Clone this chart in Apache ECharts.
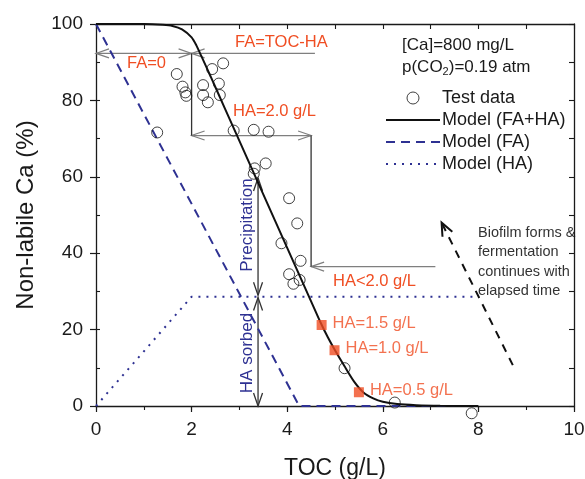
<!DOCTYPE html>
<html>
<head>
<meta charset="utf-8">
<script src="https://cdn.jsdelivr.net/npm/echarts@6/dist/echarts.min.js"></script>
<style>
  html, body { margin: 0; padding: 0; background: #fff; }
  #chart { width: 585px; height: 479px; }
</style>
</head>
<body>
<div id="chart"></div>
<script>
// TOC in g/L on x, non-labile Ca in % on y
const modelTotalX = [0, 1.0, 1.4, 1.6, 1.8, 2.0, 2.1, 2.2, 2.4, 2.7, 3.0, 3.5, 4.0, 4.5, 4.7, 4.85, 5.0, 5.2, 5.4, 5.6, 5.8, 6.0, 6.3, 6.7, 7.2, 8.0];
const modelTotalY = [100, 100, 99.8, 99.5, 98.6, 96.5, 94.4, 91.7, 86.2, 77.8, 69.4, 55.4, 41.4, 27.4, 21.8, 18.0, 14.6, 10.4, 6.4, 3.5, 2.0, 1.1, 0.5, 0.2, 0.05, 0];

const modelFAX = [0, 4.25, 8.0];
const modelFAY = [100, 0, 0];

const modelHAX = [0, 2.0, 8.0];
const modelHAY = [0, 28.6, 28.6];

const testX = [1.28, 1.69, 1.81, 1.87, 1.89, 2.24, 2.24, 2.34, 2.43, 2.57, 2.59, 2.66, 2.88, 3.30, 3.61, 3.32, 3.55, 3.30, 4.04, 4.21, 3.88, 4.28, 4.04, 4.13, 4.26, 5.20, 6.25, 7.86];
const testY = [71.6, 86.9, 83.6, 82.1, 81.2, 84.0, 81.4, 79.5, 88.2, 84.4, 81.4, 89.7, 72.1, 72.3, 71.8, 62.2, 63.5, 60.8, 54.4, 47.8, 42.6, 38.0, 34.5, 32.0, 33.0, 9.9, 0.9, -1.9];

const haLabels = ['HA=1.5 g/L', 'HA=1.0 g/L', 'HA=0.5 g/L'];
const haX = [4.72, 4.99, 5.50];
const haY = [21.2, 14.6, 3.6];

// guide lines in data units: x1, y1, x2, y2, head at start, head at end, style index
const guides = [
  [0, 92.3, 2.0, 92.3, 1, 1, 0],
  [4.58, 92.3, 2.0, 92.3, 0, 1, 0],
  [2.0, 70.8, 4.5, 70.8, 1, 1, 0],
  [7.1, 36.5, 4.5, 36.5, 0, 1, 0],
  [2.0, 92.3, 2.0, 70.8, 0, 0, 1],
  [4.5, 70.8, 4.5, 36.5, 0, 0, 1],
  [3.39, 59.7, 3.39, 29.0, 1, 1, 1],
  [3.39, 28.4, 3.39, 0, 1, 1, 1],
  [8.72, 10.7, 7.23, 48.0, 0, 1, 2]
];

const xTicksMajor = 2, xTicksMinor = 1, yTicksMajor = 20, yTicksMinor = 10;

const FONT = "'Liberation Sans', Arial, Helvetica, sans-serif";
const RED = '#f04e23';
const BLUE = '#2e3192';
const INK = '#1a1a1a';

const guideStyles = [
  { color: '#7f7f7f', width: 1.2, dash: null, len: 13, half: 4.5 },
  { color: '#333333', width: 1.3, dash: null, len: 13, half: 4.5 },
  { color: '#111111', width: 2, dash: [8, 7], len: 13, half: 5.5 }
];

function zip(xs, ys) { return xs.map((x, i) => [x, ys[i]]); }

function chevron(tip, from, len, half) {
  const dx = tip[0] - from[0], dy = tip[1] - from[1];
  const L = Math.hypot(dx, dy) || 1;
  const ux = dx / L, uy = dy / L;
  const bx = tip[0] - ux * len, by = tip[1] - uy * len;
  return [[bx - uy * half, by + ux * half], [tip[0], tip[1]], [bx + uy * half, by - ux * half]];
}

function renderGuide(params, api) {
  const a = api.coord([api.value(0), api.value(1)]);
  const b = api.coord([api.value(2), api.value(3)]);
  const st = guideStyles[api.value(6)];
  const children = [{
    type: 'line',
    shape: { x1: a[0], y1: a[1], x2: b[0], y2: b[1] },
    style: { stroke: st.color, lineWidth: st.width, lineDash: st.dash, fill: null }
  }];
  const headStyle = { stroke: st.color, lineWidth: st.width, fill: null };
  if (api.value(4)) children.push({ type: 'polyline', shape: { points: chevron(a, b, st.len, st.half) }, style: headStyle });
  if (api.value(5)) children.push({ type: 'polyline', shape: { points: chevron(b, a, st.len, st.half) }, style: headStyle });
  return { type: 'group', children };
}

const axisLabel = { color: INK, fontSize: 19, fontFamily: FONT };
const axisLineStyle = { color: INK, width: 1.3 };

function txt(text, x, y, color, size) {
  return {
    type: 'text', x: x, y: y, silent: true,
    style: {
      text: text, fill: color, font: size + 'px ' + FONT,
      align: 'left', verticalAlign: 'middle', textAlign: 'left', textVerticalAlign: 'middle'
    }
  };
}

const chart = echarts.init(document.getElementById('chart'), null, { renderer: 'canvas' });

const hiddenMarker = { opacity: 0 };

chart.setOption({
  animation: false,
  backgroundColor: '#fff',
  textStyle: { fontFamily: FONT },
  grid: { left: 96, right: 11, top: 24, bottom: 73, containLabel: false, outerBoundsMode: 'none' },
  legend: {
    orient: 'vertical', left: 380, top: 84,
    itemWidth: 54, itemHeight: 12, itemGap: 4,
    textStyle: { fontSize: 18, color: INK, fontFamily: FONT, padding: [0, 0, 0, -3] },
    data: [
      { name: 'Test data', itemStyle: { color: 'rgba(255,255,255,0)', borderColor: '#111', borderWidth: 1 } },
      { name: 'Model (FA+HA)', itemStyle: hiddenMarker },
      { name: 'Model (FA)', itemStyle: hiddenMarker },
      { name: 'Model (HA)', itemStyle: hiddenMarker }
    ]
  },
  xAxis: [
    {
      type: 'value', position: 'bottom', min: 0, max: 10, interval: xTicksMajor,
      name: 'TOC (g/L)', nameLocation: 'middle', nameGap: 51, nameMoveOverlap: false,
      nameTextStyle: { fontSize: 23, color: INK, fontFamily: FONT },
      axisLine: { show: true, onZero: false, lineStyle: axisLineStyle },
      axisTick: { show: true, inside: false, length: 6, lineStyle: { color: INK, width: 1.2 } },
      axisLabel: Object.assign({ margin: 14 }, axisLabel),
      splitLine: { show: false }
    },
    {
      type: 'value', position: 'bottom', min: 0, max: 10, interval: xTicksMinor,
      axisLine: { show: false, onZero: false },
      axisTick: { show: true, inside: false, length: 4, lineStyle: { color: INK, width: 1.1 } },
      axisLabel: { show: false }, splitLine: { show: false }
    },
    {
      type: 'value', position: 'top', min: 0, max: 10, interval: xTicksMinor,
      axisLine: { show: true, onZero: false, lineStyle: axisLineStyle },
      axisTick: { show: true, inside: true, length: 5, lineStyle: { color: INK, width: 1.1 } },
      axisLabel: { show: false }, splitLine: { show: false }
    }
  ],
  yAxis: [
    {
      type: 'value', position: 'left', min: 0, max: 100, interval: yTicksMajor,
      name: 'Non-labile Ca (%)', nameLocation: 'middle', nameGap: 58, nameRotate: 90, nameMoveOverlap: false,
      nameTextStyle: { fontSize: 24, color: INK, fontFamily: FONT },
      axisLine: { show: true, onZero: false, lineStyle: axisLineStyle },
      axisTick: { show: true, inside: false, length: 6, lineStyle: { color: INK, width: 1.2 } },
      axisLabel: Object.assign({ margin: 13 }, axisLabel),
      splitLine: { show: false }
    },
    {
      type: 'value', position: 'left', min: 0, max: 100, interval: yTicksMinor,
      axisLine: { show: false, onZero: false },
      axisTick: { show: true, inside: true, length: 4, lineStyle: { color: INK, width: 1.1 } },
      axisLabel: { show: false }, splitLine: { show: false }
    },
    {
      type: 'value', position: 'right', min: 0, max: 100, interval: yTicksMinor,
      axisLine: { show: true, onZero: false, lineStyle: axisLineStyle },
      axisTick: { show: true, inside: true, length: 5, lineStyle: { color: INK, width: 1.1 } },
      axisLabel: { show: false }, splitLine: { show: false }
    }
  ],
  series: [
    {
      name: 'Model (FA)', type: 'line', xAxisIndex: 0, yAxisIndex: 0,
      data: zip(modelFAX, modelFAY), symbol: 'none', z: 3,
      lineStyle: { color: BLUE, width: 2, type: [9, 6] }, itemStyle: { color: BLUE }
    },
    {
      name: 'Model (HA)', type: 'line', xAxisIndex: 0, yAxisIndex: 0,
      data: zip(modelHAX, modelHAY), symbol: 'none', z: 3,
      lineStyle: { color: BLUE, width: 2, type: [2, 6] }, itemStyle: { color: BLUE }
    },
    {
      name: 'Model (FA+HA)', type: 'line', xAxisIndex: 0, yAxisIndex: 0,
      data: zip(modelTotalX, modelTotalY), symbol: 'none', smooth: 0.25, z: 4,
      lineStyle: { color: '#111', width: 2 }, itemStyle: { color: '#111' }
    },
    {
      name: 'guides', type: 'custom', xAxisIndex: 0, yAxisIndex: 0,
      data: guides, renderItem: renderGuide, z: 2, silent: true,
      encode: { x: [0, 2], y: [1, 3] }
    },
    {
      name: 'Test data', type: 'scatter', xAxisIndex: 0, yAxisIndex: 0,
      data: zip(testX, testY), symbol: 'circle', symbolSize: 11, clip: false, z: 5,
      itemStyle: { color: 'rgba(255,255,255,0)', borderColor: '#111', borderWidth: 1 }
    },
    {
      name: 'HA steps', type: 'scatter', xAxisIndex: 0, yAxisIndex: 0,
      data: haX.map((x, i) => ({ name: haLabels[i], value: [x, haY[i]] })),
      symbol: 'rect', symbolSize: 10, z: 6,
      itemStyle: { color: RED },
      label: {
        show: true, position: 'right', distance: 6, offset: [0, -2],
        formatter: p => p.name, color: RED, fontSize: 16.5, fontFamily: FONT
      }
    }
  ],
  graphic: [
    txt('FA=TOC-HA', 235, 42, RED, 16.5),
    txt('FA=0', 127, 63, RED, 16.5),
    txt('HA=2.0 g/L', 233, 111, RED, 16.5),
    txt('HA<2.0 g/L', 333, 281, RED, 16.5),
    txt('[Ca]=800 mg/L', 402, 45, INK, 17),
    {
      type: 'text', x: 402, y: 67, silent: true,
      style: {
        text: '{a|p(CO}{s|2}{a|)=0.19 atm}',
        align: 'left', verticalAlign: 'middle', textAlign: 'left', textVerticalAlign: 'middle',
        rich: {
          a: { fontSize: 17, fontFamily: FONT, fill: INK, color: INK, lineHeight: 20 },
          s: { fontSize: 11, fontFamily: FONT, fill: INK, color: INK, lineHeight: 20, padding: [10, 0, 0, 0] }
        }
      }
    },
    {
      type: 'text', x: 247, y: 225, rotation: Math.PI / 2, silent: true,
      style: { text: 'Precipitation', fill: BLUE, font: '17px ' + FONT, align: 'center', verticalAlign: 'middle', textAlign: 'center', textVerticalAlign: 'middle' }
    },
    {
      type: 'text', x: 247, y: 353, rotation: Math.PI / 2, silent: true,
      style: { text: 'HA sorbed', fill: BLUE, font: '17px ' + FONT, align: 'center', verticalAlign: 'middle', textAlign: 'center', textVerticalAlign: 'middle' }
    },
    {
      type: 'text', x: 478, y: 223, silent: true,
      style: {
        text: 'Biofilm forms &\nfermentation\ncontinues with\nelapsed time',
        fill: '#333', font: '14.5px ' + FONT, lineHeight: 19.5,
        align: 'left', verticalAlign: 'top', textAlign: 'left', textVerticalAlign: 'top'
      }
    }
  ]
});
</script>
</body>
</html>
